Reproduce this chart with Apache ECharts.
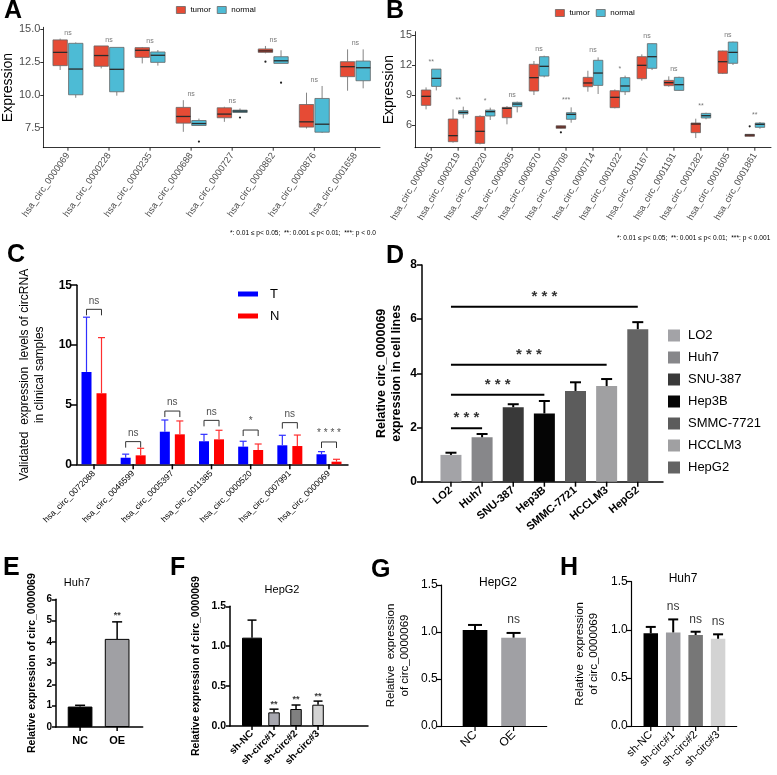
<!DOCTYPE html>
<html>
<head>
<meta charset="utf-8">
<script src="https://cdn.jsdelivr.net/npm/echarts@6/dist/echarts.min.js"></script>
<style>
  html, body { margin: 0; padding: 0; background: #fff; }
  #chart { width: 777px; height: 775px; }
</style>
</head>
<body>
<div id="chart"></div>
<script>
const FONT = '"Liberation Sans", Arial, sans-serif';

// ---- A: boxplots (min, q1, median, q3, max)
const aCats = ['hsa_circ_0000069', 'hsa_circ_0000228', 'hsa_circ_0000235', 'hsa_circ_0000688',
  'hsa_circ_0000727', 'hsa_circ_0000862', 'hsa_circ_0000876', 'hsa_circ_0001658'];
const aTumor = [
  [11.9, 12.23, 13.24, 14.19, 14.29], [12.02, 12.18, 13.0, 13.73, 13.73],
  [12.4, 12.86, 13.4, 13.6, 13.65], [7.19, 7.85, 8.36, 9.05, 9.6],
  [7.95, 8.26, 8.54, 9.02, 9.1], [13.17, 13.24, 13.35, 13.5, 13.73],
  [7.44, 7.55, 7.95, 9.27, 10.17], [10.32, 11.39, 12.15, 12.53, 13.47]
];
const aNormal = [
  [9.78, 10.01, 11.97, 13.93, 14.0], [9.94, 10.24, 11.95, 13.62, 13.62],
  [12.23, 12.48, 13.02, 13.27, 13.42], [7.65, 7.67, 7.82, 8.05, 8.2],
  [8.66, 8.66, 8.77, 8.84, 8.97], [12.4, 12.4, 12.6, 12.91, 13.4],
  [7.1, 7.16, 7.77, 9.73, 10.68], [10.5, 11.08, 12.07, 12.58, 13.47]
];
const aOutTumor = [[5, 12.53]];
const aOutNormal = [[3, 6.45], [4, 8.28], [5, 10.93]];
const aSig = ['ns', 'ns', 'ns', 'ns', 'ns', 'ns', 'ns', 'ns'];
const aTicks = [7.5, 10, 12.5, 15];

// ---- B
const bCats = ['hsa_circ_0000045', 'hsa_circ_0000219', 'hsa_circ_0000220', 'hsa_circ_0000305',
  'hsa_circ_0000670', 'hsa_circ_0000708', 'hsa_circ_0000714', 'hsa_circ_0001022', 'hsa_circ_0001167',
  'hsa_circ_0001191', 'hsa_circ_0001282', 'hsa_circ_0001605', 'hsa_circ_0001861'];
const bTumor = [
  [7.59, 7.99, 8.89, 9.52, 9.78], [4.27, 4.37, 4.97, 6.63, 7.59], [4.1, 4.2, 5.4, 6.89, 7.0],
  [6.1, 6.76, 7.69, 7.79, 7.92], [9.02, 9.42, 10.75, 12.08, 12.41], [5.66, 5.7, 5.83, 5.96, 6.0],
  [9.35, 9.85, 10.22, 10.78, 11.44], [7.69, 7.76, 8.79, 9.45, 9.58], [10.45, 10.65, 11.98, 12.84, 13.07],
  [9.85, 9.95, 10.25, 10.48, 10.88], [4.73, 5.27, 6.13, 6.23, 6.66], [11.11, 11.18, 12.34, 13.41, 13.44],
  [4.87, 4.9, 5.03, 5.1, 5.13]
];
const bNormal = [
  [9.48, 9.88, 10.68, 11.6, 11.61], [6.69, 7.13, 7.29, 7.46, 7.86], [6.53, 6.93, 7.36, 7.52, 7.76],
  [7.29, 7.86, 8.12, 8.29, 8.36], [10.78, 10.91, 11.88, 12.84, 12.94], [6.26, 6.6, 7.09, 7.26, 7.79],
  [9.12, 9.98, 11.21, 12.48, 12.77], [9.02, 9.35, 9.92, 10.75, 10.95], [11.51, 11.68, 12.84, 14.14, 14.17],
  [9.45, 9.48, 10.05, 10.78, 10.85], [6.6, 6.73, 6.96, 7.19, 7.26], [12.01, 12.18, 13.27, 14.3, 14.34],
  [5.66, 5.8, 6.1, 6.23, 6.33]
];
const bOutTumor = [[5, 5.3], [12, 5.9]];
const bOutNormal = [];
const bSig = ['**', '**', '*', 'ns', 'ns', '***', 'ns', '*', 'ns', 'ns', '**', 'ns', '**'];
const bTicks = [6, 9, 12, 15];

const pNote = '*: 0.01 \u2264 p< 0.05;  **: 0.001 \u2264 p< 0.01;  ***: p < 0.001';

// ---- C
const cCats = ['hsa_circ_0072088', 'hsa_circ_0046599', 'hsa_circ_0005397', 'hsa_circ_0011385',
  'hsa_circ_0000520', 'hsa_circ_0007991', 'hsa_circ_0000069'];
const cT = [7.74, 0.55, 2.73, 1.93, 1.48, 1.59, 0.84];
const cTSd = [4.58, 0.3, 0.98, 0.58, 0.45, 0.84, 0.22];
const cN = [5.95, 0.75, 2.51, 2.09, 1.2, 1.53, 0.22];
const cNSd = [4.66, 0.59, 1.12, 0.76, 0.5, 0.92, 0.2];
const cBracket = [12.98, 1.9, 4.46, 3.68, 2.87, 3.49, 1.87];
const cSig = ['ns', 'ns', 'ns', 'ns', '*', 'ns', '* * * *'];

// ---- D
const dNames = ['LO2', 'Huh7', 'SNU-387', 'Hep3B', 'SMMC-7721', 'HCCLM3', 'HepG2'];
const dVals = [0.99, 1.64, 2.75, 2.52, 3.35, 3.53, 5.63];
const dSd = [0.08, 0.12, 0.11, 0.46, 0.32, 0.26, 0.26];
const dColors = ['#a3a3a7', '#87878a', '#393939', '#050505', '#5c5c5c', '#a0a0a2', '#646464'];
const dSigTo = [1, 3, 5, 6];
const dSigY = [1.97, 3.21, 4.32, 6.46];

// ---- E
const eNames = ['NC', 'OE'];
const eVals = [0.96, 4.14];
const eSd = [0.06, 0.8];
const eSig = ['', '**'];
const eColors = ['#000000', '#a0a0a4'];

// ---- F
const fNames = ['sh-NC', 'sh-circ#1', 'sh-circ#2', 'sh-circ#3'];
const fVals = [1.107, 0.171, 0.213, 0.267];
const fSd = [0.22, 0.04, 0.05, 0.045];
const fSig = ['', '**', '**', '**'];
const fColors = ['#000000', '#a8a8b0', '#808080', '#d3d3d3'];

// ---- G
const gNames = ['NC', 'OE'];
const gVals = [1.02, 0.94];
const gSd = [0.055, 0.05];
const gSig = ['', 'ns'];
const gColors = ['#000000', '#a0a0a4'];

// ---- H
const hNames = ['sh-NC', 'sh-circ#1', 'sh-circ#2', 'sh-circ#3'];
const hVals = [0.963, 0.973, 0.946, 0.907];
const hSd = [0.067, 0.135, 0.034, 0.046];
const hSig = ['', 'ns', 'ns', 'ns'];
const hColors = ['#000000', '#9c9ca0', '#777777', '#d3d3d3'];

const TUMOR = '#E64B35';
const NORMAL = '#4DBBD5';

// ---------- helpers
function catX(gi, names, min, max, o) {
  const idx = names.map((_, i) => i);
  return {
    type: 'value', gridIndex: gi, min: min, max: max, position: 'bottom',
    axisLine: { show: true, onZero: false, lineStyle: { color: '#000', width: o.lw } },
    axisTick: { show: false },
    axisLabel: {
      customValues: idx, formatter: v => names[Math.round(v)], rotate: o.rotate || 0,
      fontSize: o.fs, fontWeight: o.fw || 'normal', color: o.color || '#000',
      margin: o.margin || 4, fontFamily: FONT
    },
    splitLine: { show: false }
  };
}

function numY(gi, min, max, o) {
  return {
    type: 'value', gridIndex: gi, min: min, max: max, interval: o.interval, position: 'left',
    axisLine: { show: true, onZero: false, lineStyle: { color: '#000', width: o.lw } },
    axisTick: { show: true, length: o.tickLen || 4, customValues: o.ticks, lineStyle: { color: '#000', width: o.lw } },
    axisLabel: {
      customValues: o.ticks, formatter: o.fmt, fontSize: o.fs, fontWeight: o.fw || 'normal',
      color: o.color || '#000', margin: o.margin || 4, fontFamily: FONT
    },
    splitLine: { show: false },
    name: o.name, nameLocation: 'middle', nameGap: o.gap, nameRotate: 90,
    nameTextStyle: { fontSize: o.nfs, fontWeight: o.nfw || 'normal', color: '#000', fontFamily: FONT, lineHeight: o.nlh, align: 'center' }
  };
}

// category ticks under the x axis, placed through the panel's own axes
function xTicks(gi, names, ymin, tickLen, lw) {
  return {
    type: 'custom', xAxisIndex: gi, yAxisIndex: gi, silent: true, clip: false, z: 5,
    data: names.map((_, i) => [i]),
    renderItem: function (params, api) {
      const p = api.coord([api.value(0), ymin]);
      return { type: 'line', shape: { x1: p[0], y1: p[1], x2: p[0], y2: p[1] + tickLen }, style: { stroke: '#000', lineWidth: lw } };
    }
  };
}

function boxSeries(gi, name, rows, color, side) {
  return {
    type: 'custom', name: name, xAxisIndex: gi, yAxisIndex: gi,
    itemStyle: { color: color },
    data: rows.map((r, i) => [i].concat(r)),
    encode: { x: 0, y: [1, 2, 3, 4, 5] },
    renderItem: function (params, api) {
      const i = api.value(0);
      const bw = api.size([1, 0])[0];
      const cx = api.coord([i, 0])[0] + side * 0.19 * bw;
      const hw = 0.175 * bw;
      const y = k => api.coord([i, api.value(k)])[1];
      const edge = '#666666';
      return {
        type: 'group', children: [
          { type: 'line', shape: { x1: cx, y1: y(1), x2: cx, y2: y(2) }, style: { stroke: edge, lineWidth: 0.8 } },
          { type: 'line', shape: { x1: cx, y1: y(4), x2: cx, y2: y(5) }, style: { stroke: edge, lineWidth: 0.8 } },
          { type: 'rect', shape: { x: cx - hw, y: y(4), width: 2 * hw, height: y(2) - y(4) }, style: { fill: color, stroke: edge, lineWidth: 0.8 } },
          { type: 'line', shape: { x1: cx - hw, y1: y(3), x2: cx + hw, y2: y(3) }, style: { stroke: '#2b2b2b', lineWidth: 1.3 } }
        ]
      };
    }
  };
}

function outlierSeries(gi, pts, side) {
  return {
    type: 'custom', xAxisIndex: gi, yAxisIndex: gi, data: pts,
    renderItem: function (params, api) {
      const bw = api.size([1, 0])[0];
      const p = api.coord([api.value(0), api.value(1)]);
      return { type: 'circle', shape: { cx: p[0] + side * 0.19 * bw, cy: p[1], r: 1.1 }, style: { fill: '#222' } };
    }
  };
}

function sigSeries(gi, pts, texts, o) {
  const data = [];
  pts.forEach((p, i) => { if (texts[i]) data.push({ name: texts[i], value: p }); });
  return {
    type: 'scatter', xAxisIndex: gi, yAxisIndex: gi, symbolSize: 1, silent: true,
    itemStyle: { color: 'rgba(0,0,0,0)' }, data: data,
    label: {
      show: true, position: 'top', distance: o.dist, formatter: '{b}', fontSize: o.fs,
      fontWeight: o.fw || 'normal', color: o.color || '#000', fontFamily: FONT
    }
  };
}

function errSeries(gi, vals, sd, color, cap, offset, lw) {
  return {
    type: 'custom', xAxisIndex: gi, yAxisIndex: gi, z: 3,
    data: vals.map((v, i) => [i, v, v + sd[i]]),
    encode: { x: 0, y: [1, 2] },
    renderItem: function (params, api) {
      const a = api.coord([api.value(0), api.value(1)]);
      const b = api.coord([api.value(0), api.value(2)]);
      const x = a[0] + offset;
      return {
        type: 'group', children: [
          { type: 'line', shape: { x1: x, y1: a[1], x2: x, y2: b[1] }, style: { stroke: color, lineWidth: lw } },
          { type: 'line', shape: { x1: x - cap / 2, y1: b[1], x2: x + cap / 2, y2: b[1] }, style: { stroke: color, lineWidth: lw } }
        ]
      };
    }
  };
}

function coloredBars(gi, vals, colors, width, border, xi) {
  return {
    type: 'bar', xAxisIndex: xi != null ? xi : gi, yAxisIndex: gi, barWidth: width,
    data: vals.map((v, i) => ({ value: [i, v], itemStyle: { color: colors[i] } })),
    itemStyle: border ? { borderColor: '#000', borderWidth: 1 } : {}
  };
}

const f1 = v => v.toFixed(1);
const f0 = v => String(Math.round(v));

// ---------- grids
const grids = [
  { left: 39.3, top: 27.3, width: 340.7, height: 120.4 },   // A
  { left: 415, top: 31.7, width: 356, height: 116 },        // B
  { left: 77, top: 285.2, width: 271, height: 179.1 },      // C
  { left: 422, top: 265, width: 241, height: 216.7 },       // D
  { left: 56, top: 599.3, width: 86.7, height: 127.7 },     // E
  { left: 230, top: 606.3, width: 138, height: 119.7 },     // F
  { left: 441.7, top: 585, width: 105, height: 141 },       // G
  { left: 631.7, top: 581.7, width: 105, height: 144.3 }    // H
];

// x ranges (ggplot pads 0.6 of a category, GraphPad panels)
const xr = [[-0.6, 7.6], [-0.6, 12.6], [-0.434, 6.485], [-0.93, 6.81], [-0.65, 1.69], [-1.0, 5.27], [-0.865, 1.86], [-0.85, 3.83]];
const yr = [[5.98, 15.15], [3.77, 15.33], [0, 15], [0, 8], [0, 6], [0, 1.5], [0, 1.5], [0, 1.5]];

const xAxes = [
  catX(0, aCats, xr[0][0], xr[0][1], { lw: 0.8, rotate: 55, fs: 9.3, color: '#4d4d4d', margin: 6 }),
  catX(1, bCats, xr[1][0], xr[1][1], { lw: 0.8, rotate: 60, fs: 9.3, color: '#4d4d4d', margin: 6 }),
  catX(2, cCats, xr[2][0], xr[2][1], { lw: 1.5, rotate: 45, fs: 8.5, margin: 8 }),
  catX(3, dNames, xr[3][0], xr[3][1], { lw: 1.5, rotate: 40, fs: 11, fw: 'bold', margin: 7 }),
  catX(4, eNames, xr[4][0], xr[4][1], { lw: 1.5, fs: 11, fw: 'bold', margin: 8 }),
  catX(5, fNames, xr[5][0], xr[5][1], { lw: 1.5, rotate: 45, fs: 10, fw: 'bold', margin: 6 }),
  catX(6, gNames, xr[6][0], xr[6][1], { lw: 1.2, rotate: 45, fs: 12, margin: 7 }),
  catX(7, hNames, xr[7][0], xr[7][1], { lw: 1.2, rotate: 45, fs: 11, margin: 7 }),
  { type: 'value', gridIndex: 5, min: xr[5][0], max: xr[5][1], show: false }  // F wide control bar
];

const yAxes = [
  numY(0, yr[0][0], yr[0][1], { lw: 0.8, ticks: aTicks, fmt: f1, fs: 11, color: '#4d4d4d', tickLen: 3, margin: 3, name: 'Expression', gap: 22, nfs: 14 }),
  numY(1, yr[1][0], yr[1][1], { lw: 0.8, ticks: bTicks, fmt: f0, fs: 11, color: '#4d4d4d', tickLen: 3, margin: 3, name: 'Expression', gap: 18, nfs: 14 }),
  numY(2, yr[2][0], yr[2][1], { lw: 1.5, interval: 5, fmt: f0, fs: 12, fw: 'bold', tickLen: 6, margin: 5,
    name: 'Validated  expression  levels of circRNA\nin clinical samples', gap: 30, nfs: 12, nlh: 15 }),
  numY(3, yr[3][0], yr[3][1], { lw: 1.5, interval: 2, fmt: f0, fs: 12, fw: 'bold', tickLen: 5, margin: 5,
    name: 'Relative circ_0000069\nexpression in cell lines', gap: 18, nfs: 12.5, nfw: 'bold', nlh: 15 }),
  numY(4, yr[4][0], yr[4][1], { lw: 1.5, interval: 1, fmt: f0, fs: 10, fw: 'bold', tickLen: 4, margin: 4,
    name: 'Relative expression of circ_0000069', gap: 18, nfs: 10.5, nfw: 'bold' }),
  numY(5, yr[5][0], yr[5][1], { lw: 1.5, interval: 0.5, fmt: f1, fs: 10.5, fw: 'bold', tickLen: 4, margin: 4,
    name: 'Relative expression of circ_0000069', gap: 28, nfs: 10.5, nfw: 'bold' }),
  numY(6, yr[6][0], yr[6][1], { lw: 1.2, interval: 0.5, fmt: f1, fs: 12, tickLen: 5, margin: 4,
    name: 'Relative  expression\nof circ_0000069', gap: 30, nfs: 11.5, nlh: 14 }),
  numY(7, yr[7][0], yr[7][1], { lw: 1.2, interval: 0.5, fmt: f1, fs: 12, tickLen: 5, margin: 4,
    name: 'Relative  expression\nof circ_0000069', gap: 31, nfs: 11.5, nlh: 14 })
];

const series = [];

// category ticks
const panelCats = [aCats, bCats, cCats, dNames, eNames, fNames, gNames, hNames];
const tickStyle = [[3, 0.8], [3, 0.8], [5, 1.5], [5, 1.5], [4, 1.5], [4, 1.5], [5, 1.2], [5, 1.2]];
panelCats.forEach((names, gi) => {
  series.push(xTicks(gi, names, yr[gi][0], tickStyle[gi][0], tickStyle[gi][1]));
});

// A
series.push(boxSeries(0, 'tumor', aTumor, TUMOR, -1));
series.push(boxSeries(0, 'normal', aNormal, NORMAL, 1));
series.push(outlierSeries(0, aOutTumor, -1));
series.push(outlierSeries(0, aOutNormal, 1));
const aTop = aCats.map((_, i) => Math.max(aTumor[i][4], aNormal[i][4],
  ...aOutTumor.concat(aOutNormal).filter(p => p[0] === i).map(p => p[1])));
series.push(sigSeries(0, aTop.map((y, i) => [i, y]), aSig, { dist: 2, fs: 7, color: '#555' }));

// B
series.push(boxSeries(1, 'tumor', bTumor, TUMOR, -1));
series.push(boxSeries(1, 'normal', bNormal, NORMAL, 1));
series.push(outlierSeries(1, bOutTumor, -1));
series.push(outlierSeries(1, bOutNormal, 1));
const bTop = bCats.map((_, i) => Math.max(bTumor[i][4], bNormal[i][4],
  ...bOutTumor.concat(bOutNormal).filter(p => p[0] === i).map(p => p[1])));
series.push(sigSeries(1, bTop.map((y, i) => [i, y]), bSig, { dist: 3, fs: 7, color: '#555' }));

// C
series.push({ type: 'bar', name: 'T', xAxisIndex: 2, yAxisIndex: 2, barWidth: 10, barGap: '50%',
  data: cT.map((v, i) => [i, v]), itemStyle: { color: '#0000ff' } });
series.push({ type: 'bar', name: 'N', xAxisIndex: 2, yAxisIndex: 2, barWidth: 10, barGap: '50%',
  data: cN.map((v, i) => [i, v]), itemStyle: { color: '#ff0000' } });
series.push(errSeries(2, cT, cTSd, '#2f2fff', 7, -7.5, 1.2));
series.push(errSeries(2, cN, cNSd, '#ff2f2f', 7, 7.5, 1.2));
series.push({
  type: 'custom', xAxisIndex: 2, yAxisIndex: 2, data: cBracket.map((y, i) => [i, y]),
  renderItem: function (params, api) {
    const p = api.coord([api.value(0), api.value(1)]);
    return { type: 'polyline', shape: { points: [[p[0] - 7.5, p[1] + 6], [p[0] - 7.5, p[1]], [p[0] + 7.5, p[1]], [p[0] + 7.5, p[1] + 6]] },
      style: { stroke: '#333', lineWidth: 1, fill: null } };
  }
});
series.push(sigSeries(2, cBracket.map((y, i) => [i, y]), cSig, { dist: 3, fs: 10, color: '#222' }));

// D
dNames.forEach((n, i) => {
  series.push({ type: 'bar', name: n, xAxisIndex: 3, yAxisIndex: 3, barWidth: 21, barGap: '-100%',
    data: [[i, dVals[i]]], itemStyle: { color: dColors[i] } });
});
series.push(errSeries(3, dVals, dSd, '#000', 11, 0, 2));
series.push({
  type: 'custom', xAxisIndex: 3, yAxisIndex: 3, data: dSigTo.map((t, k) => [t, dSigY[k]]),
  renderItem: function (params, api) {
    const a = api.coord([0, api.value(1)]);
    const b = api.coord([api.value(0), api.value(1)]);
    return { type: 'line', shape: { x1: a[0], y1: a[1], x2: b[0], y2: b[1] }, style: { stroke: '#000', lineWidth: 2 } };
  }
});
series.push(sigSeries(3, dSigTo.map((t, k) => [t / 2, dSigY[k]]), dSigTo.map(() => '* * *'), { dist: 2, fs: 15, fw: 'bold' }));

// E
series.push(coloredBars(4, eVals, eColors, 24.7, true));
series.push(errSeries(4, eVals, eSd, '#000', 10, 0, 1.5));
series.push(sigSeries(4, eVals.map((v, i) => [i, v + eSd[i]]), eSig, { dist: 1, fs: 9, fw: 'bold' }));

// F (control bar drawn wider on its own hidden axis)
series.push(coloredBars(5, fVals.map((v, i) => (i === 0 ? v : null)), fColors, 20, true, 8));
series.push(coloredBars(5, fVals.map((v, i) => (i === 0 ? null : v)), fColors, 11.5, true));
series.push(errSeries(5, fVals, fSd, '#000', 9, 0, 1.5));
series.push(sigSeries(5, fVals.map((v, i) => [i, v + fSd[i]]), fSig, { dist: 0, fs: 9, fw: 'bold' }));

// G
series.push(coloredBars(6, gVals, gColors, 24.7, false));
series.push(errSeries(6, gVals, gSd, '#000', 14, 0, 2));
series.push(sigSeries(6, gVals.map((v, i) => [i, v + gSd[i]]), gSig, { dist: 7, fs: 12 }));

// H
series.push(coloredBars(7, hVals, hColors, 14.5, false));
series.push(errSeries(7, hVals, hSd, '#000', 10, 0, 2));
series.push(sigSeries(7, hVals.map((v, i) => [i, v + hSd[i]]), hSig, { dist: 6, fs: 12 }));

// ---------- legends
const legends = [
  { data: ['tumor', 'normal'], left: 176, top: 6, itemWidth: 9, itemHeight: 7, itemGap: 6, icon: 'rect',
    itemStyle: { borderColor: '#666', borderWidth: 0.8 }, textStyle: { fontSize: 8, color: '#000', fontFamily: FONT } },
  { data: ['tumor', 'normal'], left: 555, top: 9, itemWidth: 9, itemHeight: 7, itemGap: 6, icon: 'rect',
    itemStyle: { borderColor: '#666', borderWidth: 0.8 }, textStyle: { fontSize: 8, color: '#000', fontFamily: FONT } },
  { data: ['T', 'N'], orient: 'vertical', left: 238, top: 287, itemWidth: 20, itemHeight: 5, itemGap: 8, icon: 'rect',
    textStyle: { fontSize: 13, color: '#000', fontFamily: FONT, padding: [0, 0, 0, 7], lineHeight: 14 } },
  { data: dNames, orient: 'vertical', left: 668, top: 329, itemWidth: 12, itemHeight: 12, itemGap: 9, icon: 'rect',
    textStyle: { fontSize: 13, color: '#000', fontFamily: FONT, padding: [0, 0, 0, 3], lineHeight: 12 } }
].map(l => Object.assign({ selectedMode: false, padding: 0 }, l));

// ---------- texts
function letter(t, x, y) {
  return { type: 'text', left: x, top: y, silent: true,
    style: { text: t, fontSize: 25, fontWeight: 'bold', fontFamily: FONT, fill: '#000' } };
}
function title(t, x, y, fs) {
  return { type: 'text', x: x, y: y, silent: true,
    style: { text: t, fontSize: fs, fontFamily: FONT, fill: '#000', align: 'center', verticalAlign: 'middle',
      textAlign: 'center', textVerticalAlign: 'middle' } };
}
const graphics = [
  letter('A', 4, -1), letter('B', 386, -1), letter('C', 7, 243), letter('D', 386, 244),
  letter('E', 3, 556), letter('F', 170, 556), letter('G', 371, 558), letter('H', 560, 556),
  title('Huh7', 77, 583, 11), title('HepG2', 282, 590, 11), title('HepG2', 498, 583, 12), title('Huh7', 683, 579, 12),
  { type: 'text', left: 230, top: 230, silent: true,
    style: { text: pNote, fontSize: 6.6, fontFamily: FONT, fill: '#000', width: 151, overflow: 'truncate', ellipsis: '' } },
  { type: 'text', left: 617, top: 235, silent: true,
    style: { text: pNote, fontSize: 6.6, fontFamily: FONT, fill: '#000' } }
];

const chart = echarts.init(document.getElementById('chart'), null, { renderer: 'canvas' });
chart.setOption({
  animation: false,
  backgroundColor: '#fff',
  textStyle: { fontFamily: FONT },
  grid: grids,
  xAxis: xAxes,
  yAxis: yAxes,
  legend: legends,
  series: series,
  graphic: graphics
});
</script>
</body>
</html>
